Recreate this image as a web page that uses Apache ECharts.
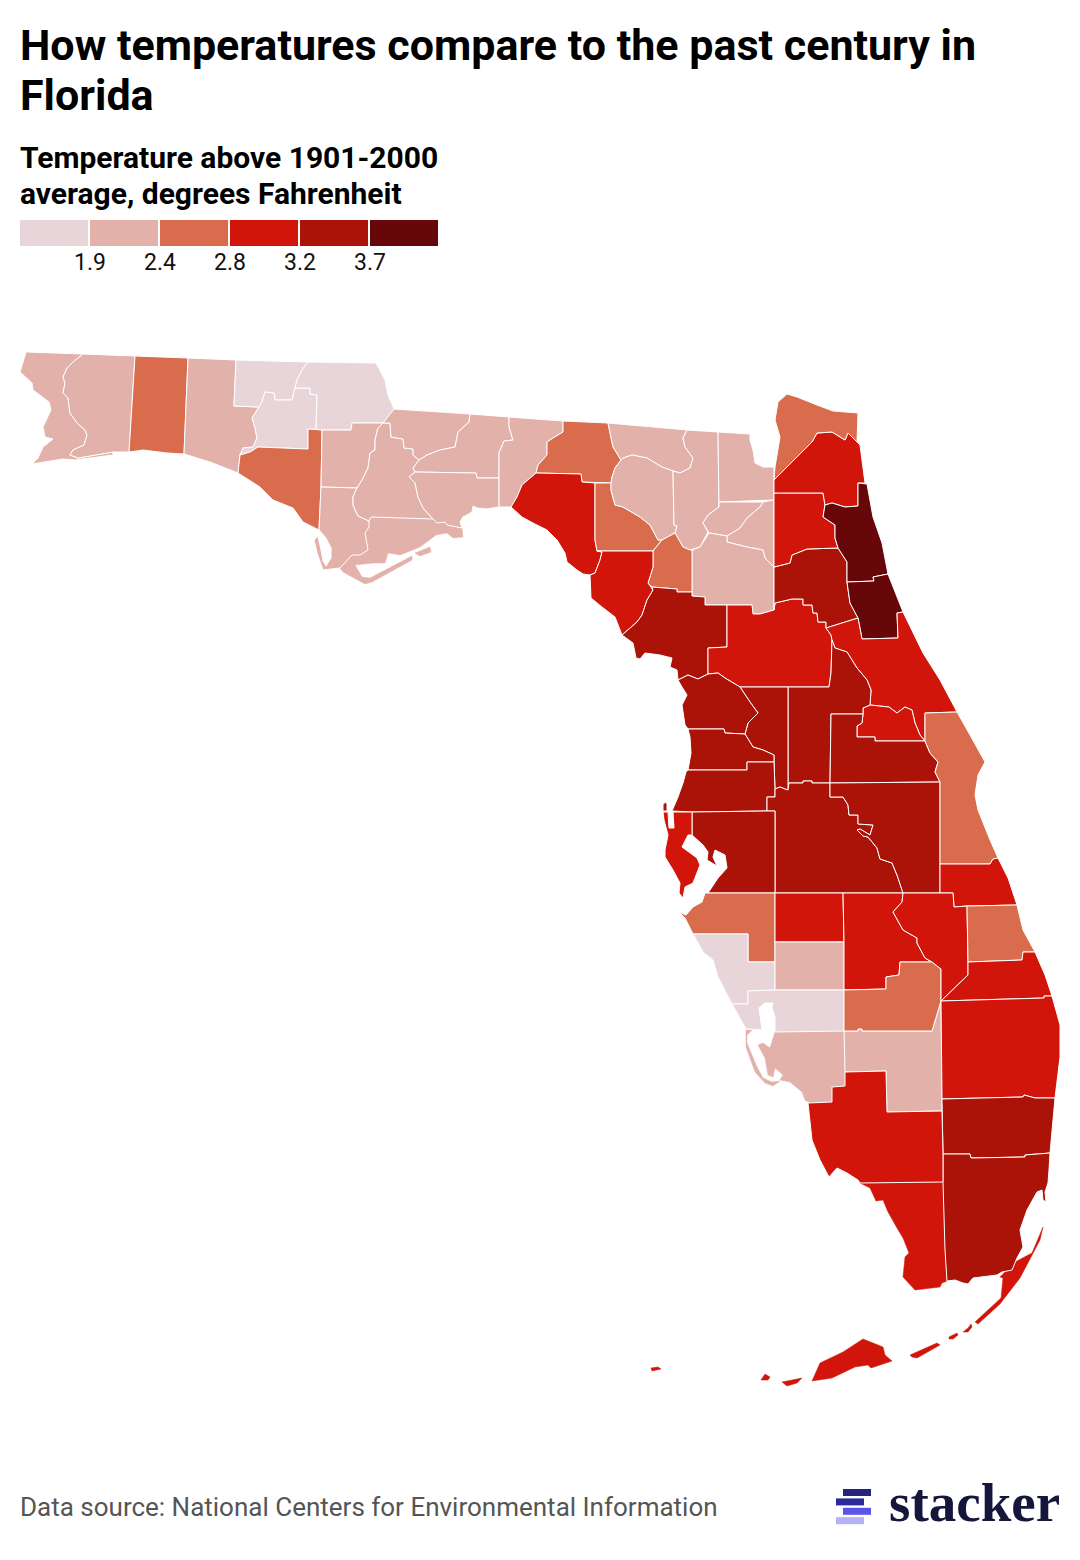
<!DOCTYPE html>
<html>
<head>
<meta charset="utf-8">
<title>Florida temperatures</title>
<style>html,body{margin:0;background:#fff}#main{width:1080px;height:1560px}</style>
<script src="https://cdn.jsdelivr.net/npm/echarts@6/dist/echarts.min.js"></script>
</head>
<body>
<div id="main"></div>
<script>
const countyNames = ['Holmes','Washington','Jackson','Sarasota','Charlotte',
  'Escambia','Santa Rosa','Walton','Calhoun','Gulf','Liberty','Gadsden','Franklin','Leon','Wakulla','Jefferson','Hamilton','Suwannee','Columbia','Baker','Union','Bradford','Alachua','DeSoto','Lee','Hendry',
  'Okaloosa','Bay','Madison','Lafayette','Gilchrist','Nassau','Brevard','Manatee','St. Lucie','Glades',
  'Taylor','Dixie','Marion','Clay','Duval','Volusia','Seminole','Indian River','Pinellas','Hardee','Highlands','Okeechobee','Martin','Palm Beach','Collier','Monroe',
  'Putnam','Levy','Citrus','Hernando','Pasco','Sumter','Lake','Orange','Osceola','Polk','Hillsborough','Broward','Miami-Dade',
  'St. Johns','Flagler'];
const countyValues = [1.7,1.7,1.7,1.7,1.7,
  2.2,2.2,2.2,2.2,2.2,2.2,2.2,2.2,2.2,2.2,2.2,2.2,2.2,2.2,2.2,2.2,2.2,2.2,2.2,2.2,2.2,
  2.6,2.6,2.6,2.6,2.6,2.6,2.6,2.6,2.6,2.6,
  3.0,3.0,3.0,3.0,3.0,3.0,3.0,3.0,3.0,3.0,3.0,3.0,3.0,3.0,3.0,3.0,
  3.5,3.5,3.5,3.5,3.5,3.5,3.5,3.5,3.5,3.5,3.5,3.5,3.5,
  3.9,3.9];
const binBreaks = [1.9,2.4,2.8,3.2,3.7];
const binColors = ['#e8d5da','#e2b2aa','#d96c4d','#d2150a','#ab1308','#67070a'];
const logoBars = ['#24247c','#2a2a9e','#5a55e8','#b4b2f2'];
// thin islands would vanish under a white outline, these get their own colour and are drawn first
const thinCounties = { 'Monroe': 3, 'Franklin': 1, 'Lee': 1 };

// county outlines (x,y rings)
const countyShapes = {
  'Monroe':['860,1183 943,1182 945,1250 947,1281 942,1283 940,1287 915,1290 903,1277 905,1257 909,1253 903,1238 897,1228 888,1212 883,1200 876,1201 870,1188',
    '1000,1277 1015,1262 1032,1253 1043,1227 1040,1240 1020,1278 1000,1304 978,1324 975,1322 1001,1298 1003,1278',
    '971,1324 972,1327 968,1332 963,1332 968,1328','949,1337 957,1333 958,1335 953,1339 949,1339','910,1355 937,1343 940,1345 917,1358 912,1357',
    '812,1381 820,1363 843,1352 863,1339 883,1347 885,1355 892,1361 871,1368 868,1365 855,1367 832,1378',
    '782,1382 802,1378 797,1383 787,1386','761,1380 765,1374 770,1377 768,1380','651,1368 658,1367 661,1369 652,1371'],
  'Franklin':['340,568 352,555 360,555 368,550 365,533 369,527 369,521 371,517 433,519 437,523 445,522 447,525 462,528 463,537 453,538 447,533 436,535 420,547 400,555 388,553 385,563 373,563 355,565 362,577 370,578 412,556 412,560 372,582 365,584 343,572','415,553 430,547 431,552 420,556'],
  'Lee':['775,1032 844,1031 845,1072 845,1086 832,1087 832,1102 810,1103 805,1100 802,1092 790,1082 780,1080 783,1075 775,1068 773,1077 768,1075 765,1058 758,1045 763,1043 770,1048','746,1030 752,1030 747,1035 747,1043 757,1067 763,1078 772,1082 780,1081 773,1086 765,1083 755,1072 746,1047'],
  'Escambia':['26,352 83,354 73,362 67,368 63,377 65,383 63,393 68,398 70,413 77,423 85,430 87,435 84,445 73,450 70,455 78,458 113,452 113,455 75,460 63,459 32,464 38,458 43,447 53,439 45,437 43,427 51,410 49,402 33,390 32,383 20,372'],
  'Santa Rosa':['83,354 135,356 129,452 113,452 78,458 70,455 73,450 84,445 87,435 85,430 77,423 70,413 68,398 63,393 65,383 63,377 67,368 73,362'],
  'Okaloosa':['135,356 188,358 184,454 167,453 143,450 129,452'],
  'Walton':['188,358 236,360 234,406 259,407 252,418 255,428 257,438 253,447 243,448 240,455 238,473 210,462 184,454'],
  'Holmes':['236,360 308,362 302,370 297,380 295,388 292,400 275,400 274,393 265,392 262,402 259,407 234,406'],
  'Washington':['259,407 262,402 265,392 274,393 275,400 292,400 295,388 310,388 310,394 317,395 316,429 308,429 308,449 258,447 250,452 240,455 243,448 253,447 257,438 255,428 252,418'],
  'Jackson':['308,362 376,363 385,380 388,395 394,409 383,423 352,423 351,430 322,430 316,429 317,395 310,394 310,388 295,388 297,380 302,370'],
  'Bay':['240,455 250,452 258,447 308,449 308,429 322,430 321,487 319,530 303,522 293,508 273,500 260,487 238,473'],
  'Calhoun':['322,430 351,430 352,423 383,423 378,428 375,440 375,450 370,453 368,468 362,480 357,488 321,487'],
  'Gulf':['321,487 357,488 353,497 353,505 358,516 369,521 369,527 365,533 368,550 360,555 352,555 340,568 323,570 317,553 314,540 318,536 321,550 323,561 326,566 331,558 331,548 326,538 319,530'],
  'Liberty':['383,423 390,423 391,437 403,439 404,448 413,449 413,455 419,460 413,468 415,472 409,477 415,483 418,497 423,508 433,519 371,517 369,521 358,516 353,505 353,497 357,488 362,480 368,468 370,453 375,450 375,440 378,428'],
  'Gadsden':['394,409 470,414 469,422 458,432 455,447 440,450 427,455 419,460 413,455 413,449 404,448 403,439 391,437 390,423 383,423'],
  'Leon':['470,414 509,417 509,427 513,440 504,441 499,453 499,478 477,478 476,473 415,472 413,468 419,460 427,455 440,450 455,447 458,432 469,422'],
  'Wakulla':['415,472 476,473 477,478 499,478 499,507 487,509 477,508 473,506 472,512 463,517 460,522 462,528 447,525 445,522 437,523 433,519 423,508 418,497 415,483 409,477'],
  'Jefferson':['509,417 563,421 563,432 553,438 547,442 547,455 538,465 536,473 522,485 517,497 511,507 499,507 499,478 499,453 504,441 513,440 509,427'],
  'Madison':['563,421 608,423 613,447 621,460 615,468 612,477 611,483 582,482 581,474 536,473 538,465 547,455 547,442 553,438 563,432'],
  'Taylor':['536,473 581,474 582,482 595,483 595,540 597,551 602,552 600,560 595,573 590,575 583,574 577,570 567,562 565,553 557,540 547,530 533,523 522,517 511,507 517,497 522,485'],
  'Lafayette':['595,483 611,483 611,490 615,505 623,507 640,517 650,525 658,540 662,540 653,551 597,551 595,540'],
  'Hamilton':['608,423 687,430 683,438 685,447 693,458 690,468 680,473 673,471 662,467 647,458 632,455 623,458 621,460 613,447'],
  'Suwannee':['621,460 623,458 632,455 647,458 662,467 673,471 674,525 677,526 675,533 662,540 658,540 650,525 640,517 623,507 615,505 611,490 611,483 612,477 615,468'],
  'Columbia':['687,430 718,432 719,507 708,515 703,523 708,532 700,547 690,550 683,547 675,533 677,526 674,525 673,471 680,473 690,468 693,458 685,447 683,438'],
  'Baker':['718,432 750,434 750,440 753,450 755,463 763,467 774,467 774,500 719,502 719,507'],
  'Union':['719,502 763,502 760,507 747,518 740,528 727,536 709,533 703,523 708,515 719,507'],
  'Bradford':['763,502 774,500 774,567 765,558 763,550 747,547 727,542 727,536 740,528 747,518 760,507'],
  'Alachua':['709,533 727,536 727,542 747,547 763,550 765,558 774,567 774,610 760,614 753,614 752,605 705,605 705,597 692,596 692,550 700,547'],
  'Gilchrist':['662,540 675,533 683,547 690,550 692,550 692,592 677,592 677,589 652,587 648,583 653,567 653,551'],
  'Dixie':['597,551 653,551 653,567 648,583 653,590 647,600 642,615 637,622 622,635 615,617 602,607 591,598 590,575 595,573 600,560 602,552'],
  'Levy':['652,587 677,589 677,592 692,592 692,596 705,597 705,605 727,605 727,647 708,648 708,674 698,679 688,675 678,680 677,670 670,667 672,658 660,655 645,653 640,659 636,658 633,643 622,635 637,622 642,615 647,600 653,590'],
  'Marion':['727,605 752,605 753,614 760,614 774,610 775,603 792,599 803,599 803,605 812,605 813,613 817,613 818,622 826,622 826,628 831,635 832,640 831,673 829,687 740,687 735,684 725,678 718,673 708,674 708,648 727,647'],
  'Putnam':['774,567 790,563 792,555 807,549 838,548 847,562 847,582 850,603 858,618 826,628 826,622 818,622 817,613 813,613 812,605 803,605 803,599 792,599 775,603 774,610'],
  'Clay':['774,493 823,493 825,505 823,517 835,525 835,538 838,548 807,549 792,555 790,563 774,567'],
  'Duval':['774,480 812,442 817,433 832,432 845,440 848,433 857,442 860,445 865,483 858,483 858,506 845,507 832,503 825,505 823,493 774,493'],
  'Nassau':['774,480 775,467 780,437 775,420 778,402 787,394 797,397 817,405 833,411 858,413 857,442 848,433 845,440 832,432 817,433 812,442'],
  'St. Johns':['858,483 867,484 873,517 882,543 888,574 873,577 874,581 847,582 847,562 838,548 835,538 835,525 823,517 825,505 832,503 845,507 858,506'],
  'Flagler':['847,582 874,581 873,577 888,574 903,612 897,613 898,638 862,639 858,618 850,603'],
  'Volusia':['826,628 858,618 862,639 898,638 897,613 903,612 923,653 940,680 957,712 925,713 925,741 920,735 915,723 912,710 905,707 897,713 889,707 870,705 871,690 867,680 857,668 847,652 835,648 832,640 831,635'],
  'Seminole':['870,705 889,707 897,713 905,707 912,710 915,723 920,735 925,741 875,741 875,737 857,737 857,726 862,723 863,714 863,708'],
  'Lake':['788,687 829,687 831,673 832,640 835,648 847,652 857,668 867,680 871,690 870,705 863,708 863,714 831,714 830,783 812,783 812,781 803,781 803,783 789,783 788,790'],
  'Sumter':['740,687 788,687 788,790 785,789 780,787 775,789 774,762 774,755 763,750 753,747 745,734 748,723 758,713 750,702'],
  'Citrus':['678,680 688,675 698,679 708,674 718,673 725,678 735,684 740,687 750,702 758,713 748,723 745,734 725,733 724,729 688,729 685,725 682,705 687,695 682,687'],
  'Hernando':['688,729 724,729 725,733 745,734 753,747 763,750 774,755 774,762 747,762 747,770 688,770 691,753 690,737'],
  'Pasco':['688,770 747,770 747,762 774,762 775,789 775,797 767,797 767,811 692,812 672,811 678,797 683,783 686,772','663,811 663,804 666,802 667,804 667,811'],
  'Polk':['775,789 780,787 785,789 788,790 789,783 803,783 803,781 812,781 812,783 830,783 830,797 843,797 848,805 849,815 858,815 858,824 873,825 870,835 860,829 857,830 863,836 868,837 877,848 880,859 892,863 897,875 903,893 775,893 775,811 767,811 767,797 775,797'],
  'Orange':['831,714 863,714 862,723 857,726 857,737 875,737 875,741 925,741 930,753 938,762 935,772 940,782 830,783'],
  'Osceola':['830,783 940,782 940,893 903,893 897,875 892,863 880,859 877,848 868,837 863,836 857,830 860,829 870,835 873,825 858,824 858,815 849,815 848,805 843,797 830,797'],
  'Brevard':['925,713 957,712 970,735 985,762 978,775 975,795 978,810 990,840 998,858 993,859 990,864 940,864 940,782 935,772 938,762 930,753 925,741'],
  'Indian River':['940,864 990,864 993,859 998,858 1008,878 1017,905 967,906 954,907 953,893 940,893'],
  'Hillsborough':['692,812 767,811 775,811 775,893 708,893 718,878 727,868 725,855 715,850 713,857 717,866 707,860 708,852 703,845 692,835'],
  'Pinellas':['663,812 668,812 669,828 674,828 673,812 692,812 692,835 688,835 682,847 697,858 700,865 693,883 685,887 683,898 679,893 680,883 673,870 665,857 665,850 668,835 664,820'],
  'Manatee':['705,893 775,893 775,962 748,962 748,934 693,934 685,918 679,912 686,915 693,907 702,902'],
  'Sarasota':['693,934 748,934 748,962 775,962 775,990 748,991 748,1004 732,1004 718,977 713,960 703,952'],
  'Hardee':['775,893 843,893 844,942 775,942'],
  'DeSoto':['775,942 844,942 844,990 775,990'],
  'Charlotte':['748,991 775,990 844,990 844,1031 775,1032 775,1017 772,1008 773,1003 765,1003 759,1008 762,1030 746,1029 732,1004 748,1004'],
  'Hendry':['844,1031 858,1031 858,1029 862,1029 862,1031 932,1031 941,1001 942,1099 942,1111 887,1112 886,1071 845,1072'],
  'Highlands':['843,893 903,893 902,902 893,912 903,930 917,938 917,943 925,958 932,962 900,962 899,975 886,977 886,989 844,990 844,942'],
  'Glades':['844,990 886,989 886,977 899,975 900,962 932,962 941,969 941,1001 932,1031 862,1031 862,1029 858,1029 858,1031 844,1031'],
  'Okeechobee':['903,893 940,893 953,893 954,907 967,906 968,962 968,975 941,1001 941,969 932,962 925,958 917,943 917,938 903,930 893,912 902,902'],
  'St. Lucie':['967,906 1017,905 1023,930 1035,952 1023,952 1022,960 968,962'],
  'Martin':['968,962 1022,960 1023,952 1035,952 1045,975 1052,996 1044,996 1044,998 941,1001 968,975'],
  'Palm Beach':['941,1001 1044,998 1044,996 1052,996 1060,1025 1060,1057 1055,1098 1035,1098 1024,1095 1023,1097 942,1099'],
  'Broward':['942,1099 1023,1097 1024,1095 1035,1098 1055,1098 1050,1153 1025,1155 1025,1157 971,1158 970,1154 943,1154'],
  'Miami-Dade':['943,1154 970,1154 971,1158 1025,1157 1025,1155 1050,1153 1049,1170 1048,1183 1045,1192 1046,1202 1043,1200 1042,1190 1037,1192 1027,1210 1020,1230 1023,1247 1017,1258 1012,1270 1002,1272 997,1275 973,1278 968,1284 963,1283 955,1280 947,1281 945,1250 943,1182'],
  'Collier':['845,1072 886,1071 887,1112 942,1111 943,1154 943,1182 860,1183 858,1180 847,1173 837,1168 829,1177 820,1160 812,1140 808,1103 832,1102 832,1087 845,1086']
};

// latitude runs upward in geojson, so the y values are negated
function toRing(s) {
  return s.split(' ').map(function (p) {
    const xy = p.split(',');
    return [+xy[0], -xy[1]];
  });
}
const floridaGeo = {
  type: 'FeatureCollection',
  features: Object.keys(countyShapes).map(function (name) {
    return {
      type: 'Feature',
      properties: { name: name },
      geometry: { type: 'MultiPolygon', coordinates: countyShapes[name].map(function (s) { return [toRing(s)]; }) }
    };
  })
};
echarts.registerMap('florida', floridaGeo);

var myChart = echarts.init(document.getElementById('main'), null, { renderer: 'svg' });

const font = 'Roboto';
const legendItems = [];
binColors.forEach(function (c, i) {
  legendItems.push({
    type: 'rect',
    shape: { x: 20 + i * 70, y: 220, width: 68, height: 26 },
    style: { fill: c }
  });
});
binBreaks.forEach(function (b, i) {
  legendItems.push({
    type: 'text',
    style: { x: 90 + i * 70, y: 262, text: b.toFixed(1), fill: '#111', font: '400 23px ' + font, align: 'center', verticalAlign: 'middle' }
  });
});
logoBars.forEach(function (c, i) {
  legendItems.push({
    type: 'rect',
    shape: { x: i % 2 ? 836 : 843, y: 1489 + i * 9.4, width: 28, height: 7 },
    style: { fill: c }
  });
});

var option = {
  backgroundColor: '#fff',
  animation: false,
  title: [
    { text: 'How temperatures compare to the past century in\nFlorida', left: 20, top: 20, padding: 0,
      textStyle: { fontFamily: font, fontSize: 43, fontWeight: 700, lineHeight: 50, color: '#000' } },
    { text: 'Temperature above 1901-2000\naverage, degrees Fahrenheit', left: 20, top: 139, padding: 0,
      textStyle: { fontFamily: font, fontSize: 30, fontWeight: 700, lineHeight: 36, color: '#000' } },
    { text: 'Data source: National Centers for Environmental Information', left: 20, top: 1494, padding: 0,
      textStyle: { fontFamily: font, fontSize: 26, fontWeight: 400, color: '#555' } },
    { text: 'stacker', left: 889, top: 1475, padding: 0,
      textStyle: { fontFamily: 'Liberation Serif', fontSize: 55, fontWeight: 700, color: '#14163c' } }
  ],
  visualMap: {
    show: false,
    type: 'piecewise',
    pieces: [
      { lt: 1.9, color: binColors[0] },
      { gte: 1.9, lt: 2.4, color: binColors[1] },
      { gte: 2.4, lt: 2.8, color: binColors[2] },
      { gte: 2.8, lt: 3.2, color: binColors[3] },
      { gte: 3.2, lt: 3.7, color: binColors[4] },
      { gte: 3.7, color: binColors[5] }
    ]
  },
  graphic: legendItems,
  series: [{
    type: 'map',
    map: 'florida',
    roam: false,
    aspectScale: 1,
    boundingCoords: [[0, 0], [1080, -1560]],
    left: 0, top: 0, width: 1080, height: 1560,
    label: { show: false },
    itemStyle: { borderColor: '#fff', borderWidth: 1 },
    emphasis: { disabled: true },
    data: countyNames.map(function (n, i) {
      const item = { name: n, value: countyValues[i] };
      if (n in thinCounties) {
        item.itemStyle = { borderColor: binColors[thinCounties[n]], borderWidth: 0.5 };
      }
      return item;
    })
  }]
};
myChart.setOption(option);
</script>
</body>
</html>
